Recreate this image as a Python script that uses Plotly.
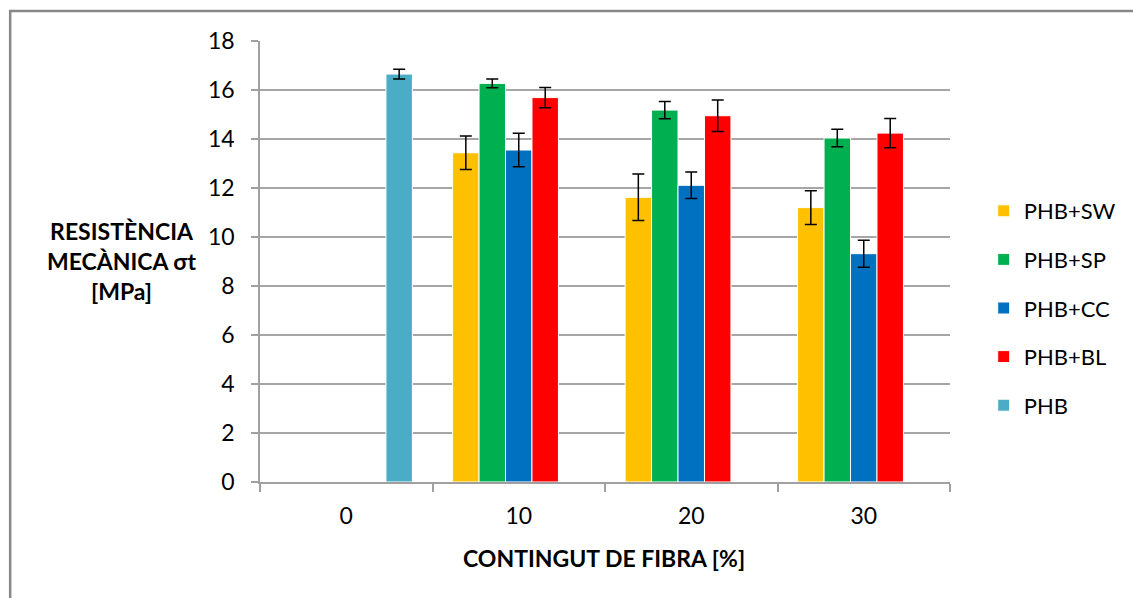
import plotly.graph_objects as go

# Fibre content categories (%)
categories = ["0", "10", "20", "30"]

# Tensile strength σt [MPa] per formulation, with standard deviation
phb_sw = [None, 13.44, 11.62, 11.20]
phb_sw_err = [None, 0.68, 0.95, 0.69]
phb_sp = [None, 16.27, 15.18, 14.04]
phb_sp_err = [None, 0.18, 0.35, 0.36]
phb_cc = [None, 13.55, 12.11, 9.32]
phb_cc_err = [None, 0.68, 0.54, 0.55]
phb_bl = [None, 15.69, 14.95, 14.24]
phb_bl_err = [None, 0.41, 0.64, 0.60]
phb = [16.65, None, None, None]
phb_err = [0.20, None, None, None]

series = [
    ("PHB+SW", phb_sw, phb_sw_err, "#FFC000"),
    ("PHB+SP", phb_sp, phb_sp_err, "#00B050"),
    ("PHB+CC", phb_cc, phb_cc_err, "#0070C0"),
    ("PHB+BL", phb_bl, phb_bl_err, "#FF0000"),
    ("PHB", phb, phb_err, "#4BACC6"),
]

FONT = "Lato"
fig = go.Figure()
for name, vals, errs, color in series:
    fig.add_trace(go.Bar(
        name=name,
        x=categories,
        y=vals,
        marker=dict(color=color, line=dict(color="white", width=1)),
        error_y=dict(type="data", array=errs, visible=True,
                     color="black", thickness=1.5, width=6),
        legendgroup=name,
    ))

L, R, T, B = 260, 177, 41, 116
W, H = 1133, 598
pw, ph = W - L - R, H - T - B

def px_x(x):
    return (x - L) / pw

def px_y(y):
    return (H - B - y) / ph

fig.update_layout(
    width=W, height=H,
    margin=dict(l=L, r=R, t=T, b=B, pad=0),
    paper_bgcolor="white", plot_bgcolor="white",
    font=dict(family=FONT, size=23, color="black"),
    barmode="group",
    bargap=0.233,
    bargroupgap=0,
    showlegend=True,
    legend=dict(
        x=px_x(990), xanchor="left",
        y=px_y(190), yanchor="top",
        traceorder="grouped",
        tracegroupgap=17,
        font=dict(family=FONT, size=22),
        bgcolor="rgba(0,0,0,0)",
        itemclick=False,
    ),
    xaxis=dict(
        type="category",
        categoryorder="array", categoryarray=categories,
        showline=True, linecolor="#A0A0A0", linewidth=1.5,
        ticks="outside", tickson="boundaries", ticklen=8,
        tickcolor="#A0A0A0", tickwidth=1.5,
        ticklabelstandoff=13,
        showgrid=False,
        tickfont=dict(family=FONT, size=23),
    ),
    yaxis=dict(
        range=[0, 18], dtick=2,
        showline=True, linecolor="#A0A0A0", linewidth=1.5,
        ticks="outside", ticklen=7, tickcolor="#A0A0A0", tickwidth=1.5,
        ticklabelstandoff=12,
        showgrid=True, gridcolor="#A6A6A6", gridwidth=1.5,
        zeroline=False,
        tickfont=dict(family=FONT, size=23),
    ),
    annotations=[
        dict(text="<b>CONTINGUT DE FIBRA [%]</b>", xref="paper", yref="paper",
             x=px_x(607), y=px_y(558), xanchor="center", yanchor="middle",
             showarrow=False, font=dict(family=FONT, size=23)),
        dict(text="<b>RESISTÈNCIA<br>MECÀNICA σt<br>[MPa]</b>", xref="paper", yref="paper",
             x=px_x(120), y=px_y(261), xanchor="center", yanchor="middle",
             showarrow=False, align="center", font=dict(family=FONT, size=23)),
    ],
    shapes=[
        dict(type="rect", xref="paper", yref="paper",
             x0=px_x(8), x1=px_x(1145), y0=px_y(610), y1=px_y(11),
             line=dict(color="#888888", width=2.5), fillcolor="rgba(0,0,0,0)",
             layer="below"),
    ],
)

fig.write_html("out.html")
